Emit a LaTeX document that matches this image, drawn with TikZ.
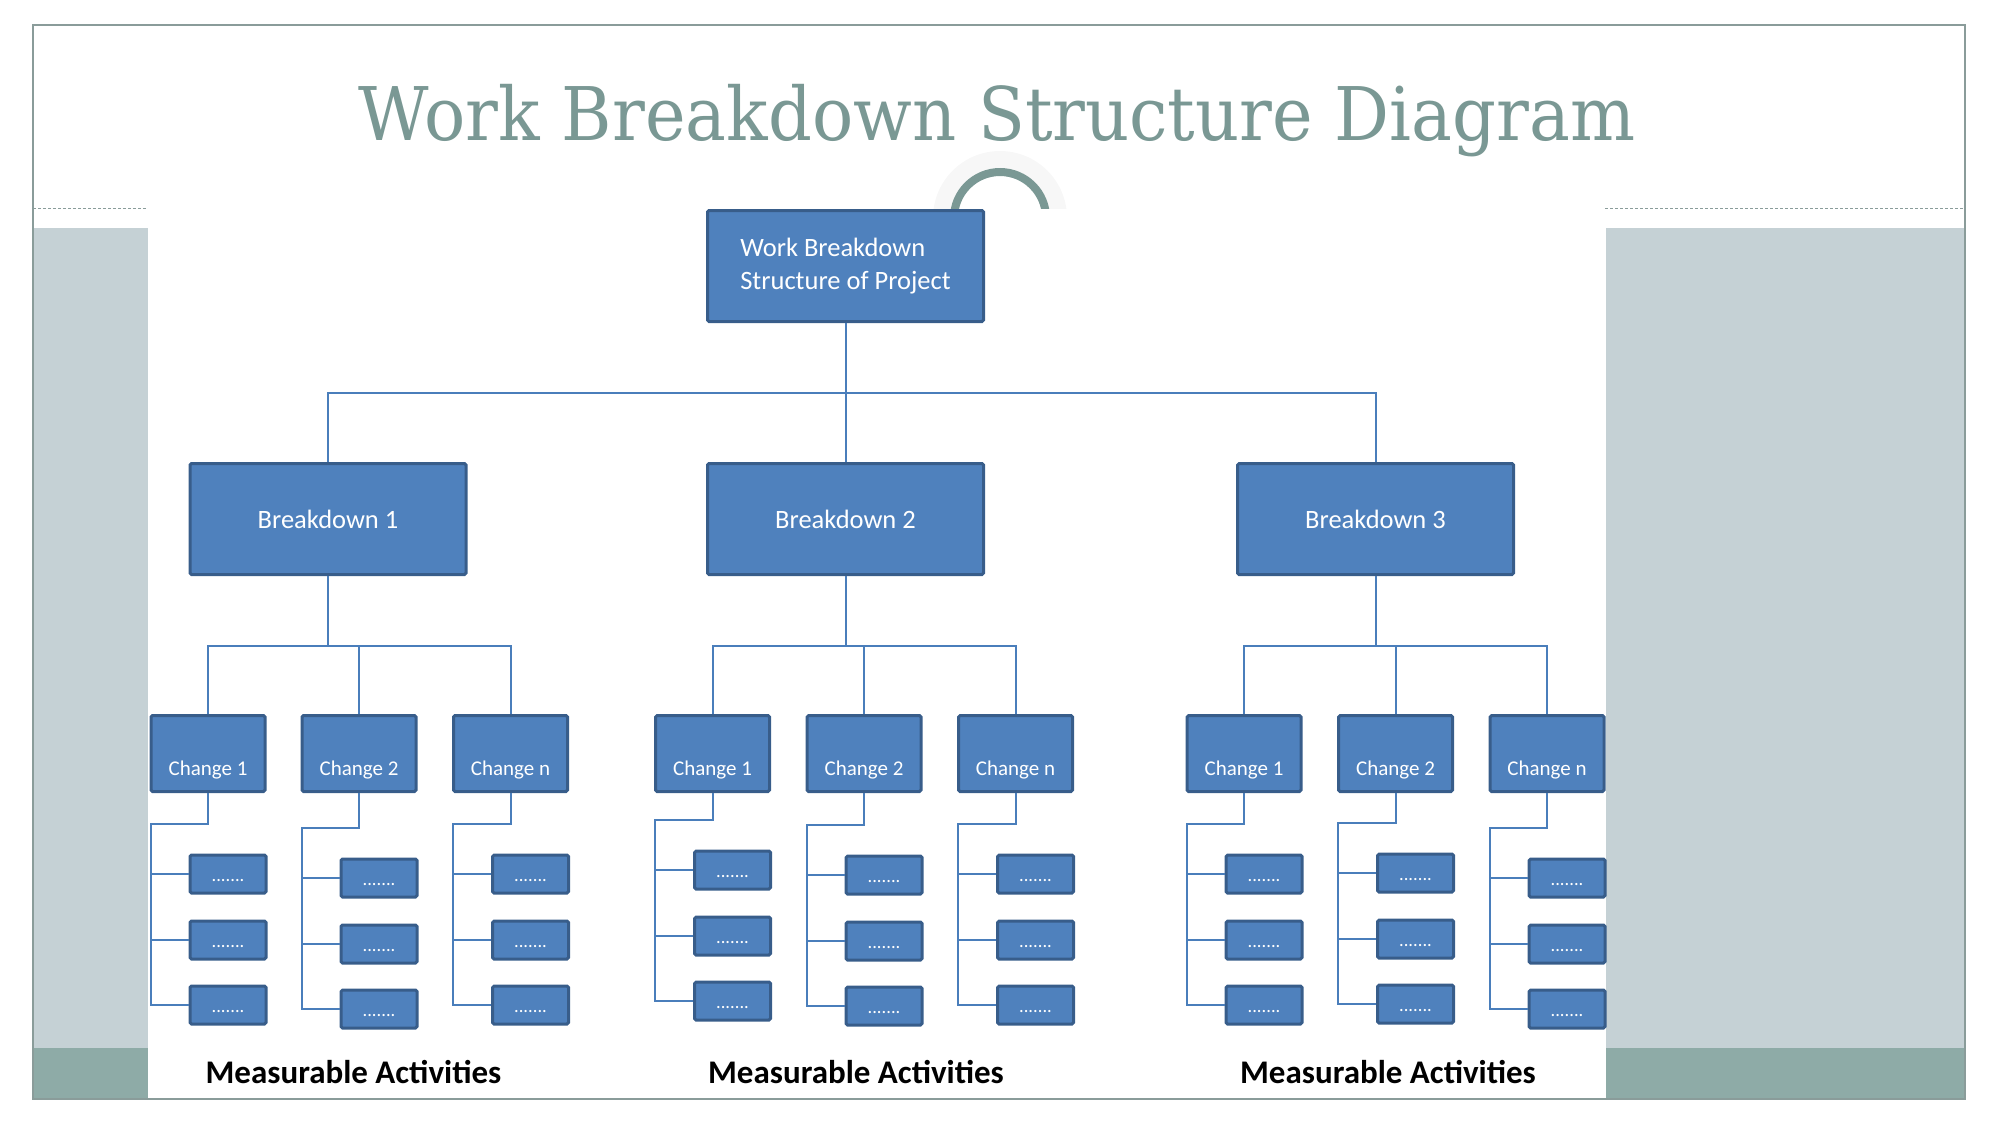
\documentclass[tikz,border=0pt]{standalone}
\usepackage{fontspec}
\setmainfont{Carlito}
\newfontfamily\titlefont[FakeStretch=0.927]{DejaVu Serif}
\usepackage{tikz}
\usetikzlibrary{calc}
\definecolor{boxblue}{HTML}{4F81BD}
\definecolor{boxedge}{HTML}{385D8A}
\definecolor{linkblue}{HTML}{4A7EBB}
\definecolor{titlegrey}{HTML}{7A9894}
\definecolor{panelgrey}{HTML}{C5D1D5}
\definecolor{panelteal}{HTML}{8EABA7}
\definecolor{framegrey}{HTML}{8A9C9A}

\begin{document}
\begin{tikzpicture}[x=0.5pt, y=-0.5pt,
		box/.style={draw=boxedge, line width=1.5pt, fill=boxblue, text=white, inner sep=0pt, rounded corners=0.8pt},
		bigbox/.style={box, minimum width=138pt, minimum height=55.5pt, font=\fontsize{13.25}{16.5}\selectfont},
		changebox/.style={box, minimum width=57pt, minimum height=38pt, font=\fontsize{10.5}{12.5}\selectfont, text height=22pt, text depth=0pt},
		itembox/.style={box, minimum width=38pt, minimum height=19pt, font=\fontsize{9.3}{11}\selectfont, text height=7.5pt, text depth=0pt},
		link/.style={draw=linkblue, line width=1pt},
		activity/.style={font=\fontsize{16.5}{20}\selectfont\bfseries}]
	\useasboundingbox (0,0) rectangle (2001,1125);
	\fill[panelgrey] (33,228) rectangle (148,1048);
	\fill[panelteal] (33,1048) rectangle (148,1099);
	\fill[panelgrey] (1606,228) rectangle (1965,1048);
	\fill[panelteal] (1606,1048) rectangle (1965,1099);
	\draw[framegrey, line width=0.75pt] (33,25) rectangle (1965,1099);
	\draw[framegrey, line width=0.5pt, dash pattern=on 1.5pt off 1pt] (33,208) -- (148,208);
	\draw[framegrey, line width=0.5pt, dash pattern=on 1.5pt off 1pt] (1605,208) -- (1965,208);
	\begin{scope}
		\clip (900,100) rectangle (1100,208);
		\fill[gray!6] (1000,218) circle (67);
		\fill[white] (1000,218) circle (42);
		\draw[titlegrey, line width=4pt] (1000,218) circle (46);
	\end{scope}
	\node[font=\titlefont\fontsize{37}{44}\selectfont, text=titlegrey, anchor=base] (title) at (997,140) {Work Breakdown Structure Diagram};

	\node[bigbox, align=left] (wbs) at (845.5,266) {Work Breakdown\\Structure of Project};
	\node[bigbox] (bd1) at (328,519) {Breakdown 1};
	\node[bigbox] (bd2) at (845.5,519) {Breakdown 2};
	\node[bigbox] (bd3) at (1375.5,519) {Breakdown 3};
	\draw[link] (wbs.south) -- (bd2.north);
	\draw[link] (bd1.north) -- ++(0,-69) -| (bd3.north);

	\node[changebox] (ch11) at (208,753.5) {Change 1};
	\node[changebox] (ch12) at (359,753.5) {Change 2};
	\node[changebox] (ch13) at (510.5,753.5) {Change n};
	\node[changebox] (ch21) at (712.5,753.5) {Change 1};
	\node[changebox] (ch22) at (864,753.5) {Change 2};
	\node[changebox] (ch23) at (1015.5,753.5) {Change n};
	\node[changebox] (ch31) at (1244,753.5) {Change 1};
	\node[changebox] (ch32) at (1395.5,753.5) {Change 2};
	\node[changebox] (ch33) at (1547,753.5) {Change n};
	\draw[link] (bd1.south) -- ++(0,70) coordinate (bus1);
	\draw[link] (bd2.south) -- ++(0,70) coordinate (bus2);
	\draw[link] (bd3.south) -- ++(0,70) coordinate (bus3);
	\draw[link] (ch11.north) |- (bus1) -| (ch13.north);
	\draw[link] (ch12.north) -- (ch12.north |- bus1);
	\draw[link] (ch21.north) |- (bus2) -| (ch23.north);
	\draw[link] (ch22.north) -- (ch22.north |- bus2);
	\draw[link] (ch31.north) |- (bus3) -| (ch33.north);
	\draw[link] (ch32.north) -- (ch32.north |- bus3);

	\foreach \c/\d in {ch11/0, ch12/4, ch13/0, ch21/-4, ch22/1, ch23/0, ch31/0, ch32/-1, ch33/4} {
		\foreach \r/\ry in {1/120.5, 2/186.5, 3/251.5}
			\node[itembox] (\c-\r) at ($(\c.center)+(20,{\ry+(\d)})$) {.......};
		\coordinate (\c-k) at ($(\c.south west)+(1,31+\d)$);
		\draw[link] (\c.south) |- (\c-k) |- (\c-3.west);
		\draw[link] (\c-1.west) -- (\c-1.west -| \c-k);
		\draw[link] (\c-2.west) -- (\c-2.west -| \c-k);
	}

	\node[activity] (ma1) at (353.5,1072) {Measurable Activities};
	\node[activity] (ma2) at (856,1072) {Measurable Activities};
	\node[activity] (ma3) at (1388,1072) {Measurable Activities};
\end{tikzpicture}
\end{document}
